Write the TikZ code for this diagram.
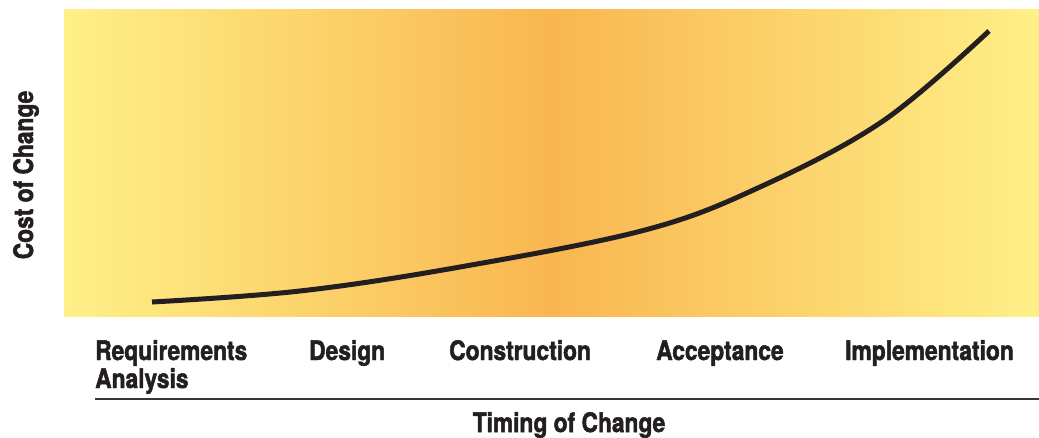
\documentclass[tikz,border=0pt]{standalone}
\usepackage{fontspec}
\setmainfont{TeX Gyre Heros}[FakeStretch=0.85, BoldFeatures={FakeBold=1.8}]
\begin{document}
\begin{tikzpicture}[x=1pt,y=-1pt,
  lbl/.style={font=\fontsize{26.8}{28}\selectfont\bfseries, text=ink, inner sep=0pt, anchor=base west, align=left},
  curve/.style={line width=5pt, draw=ink, line cap=butt}]
\definecolor{ink}{HTML}{231F20}
\definecolor{lightyel}{HTML}{FFF088}
\definecolor{midorange}{HTML}{F9B650}
\useasboundingbox (0,0) rectangle (1039,437);
\shade[left color=lightyel, right color=lightyel, middle color=midorange] (64,9) rectangle (1039,316);
\draw[curve] plot[smooth, tension=0.6] coordinates {(152,302) (300,291) (460,267) (645,230) (760,187) (883,121) (989,31)};
\node[lbl] (req) at (95,388) {Requirements\\Analysis};
\node[lbl] (des) at (309,360) {Design};
\node[lbl] (con) at (449,360) {Construction};
\node[lbl] (acc) at (656,360) {Acceptance};
\node[lbl] (imp) at (845,360) {Implementation};
\coordinate (axl) at (95,399);
\coordinate (axr) at (1039,399);
\draw[line width=2.5pt, draw=ink!90] (axl) -- (axr);
\node[lbl, anchor=base] (tim) at (569,432) {Timing of Change};
\node[lbl, anchor=base, rotate=90] (cost) at (33,175) {Cost of Change};
\end{tikzpicture}
\end{document}
